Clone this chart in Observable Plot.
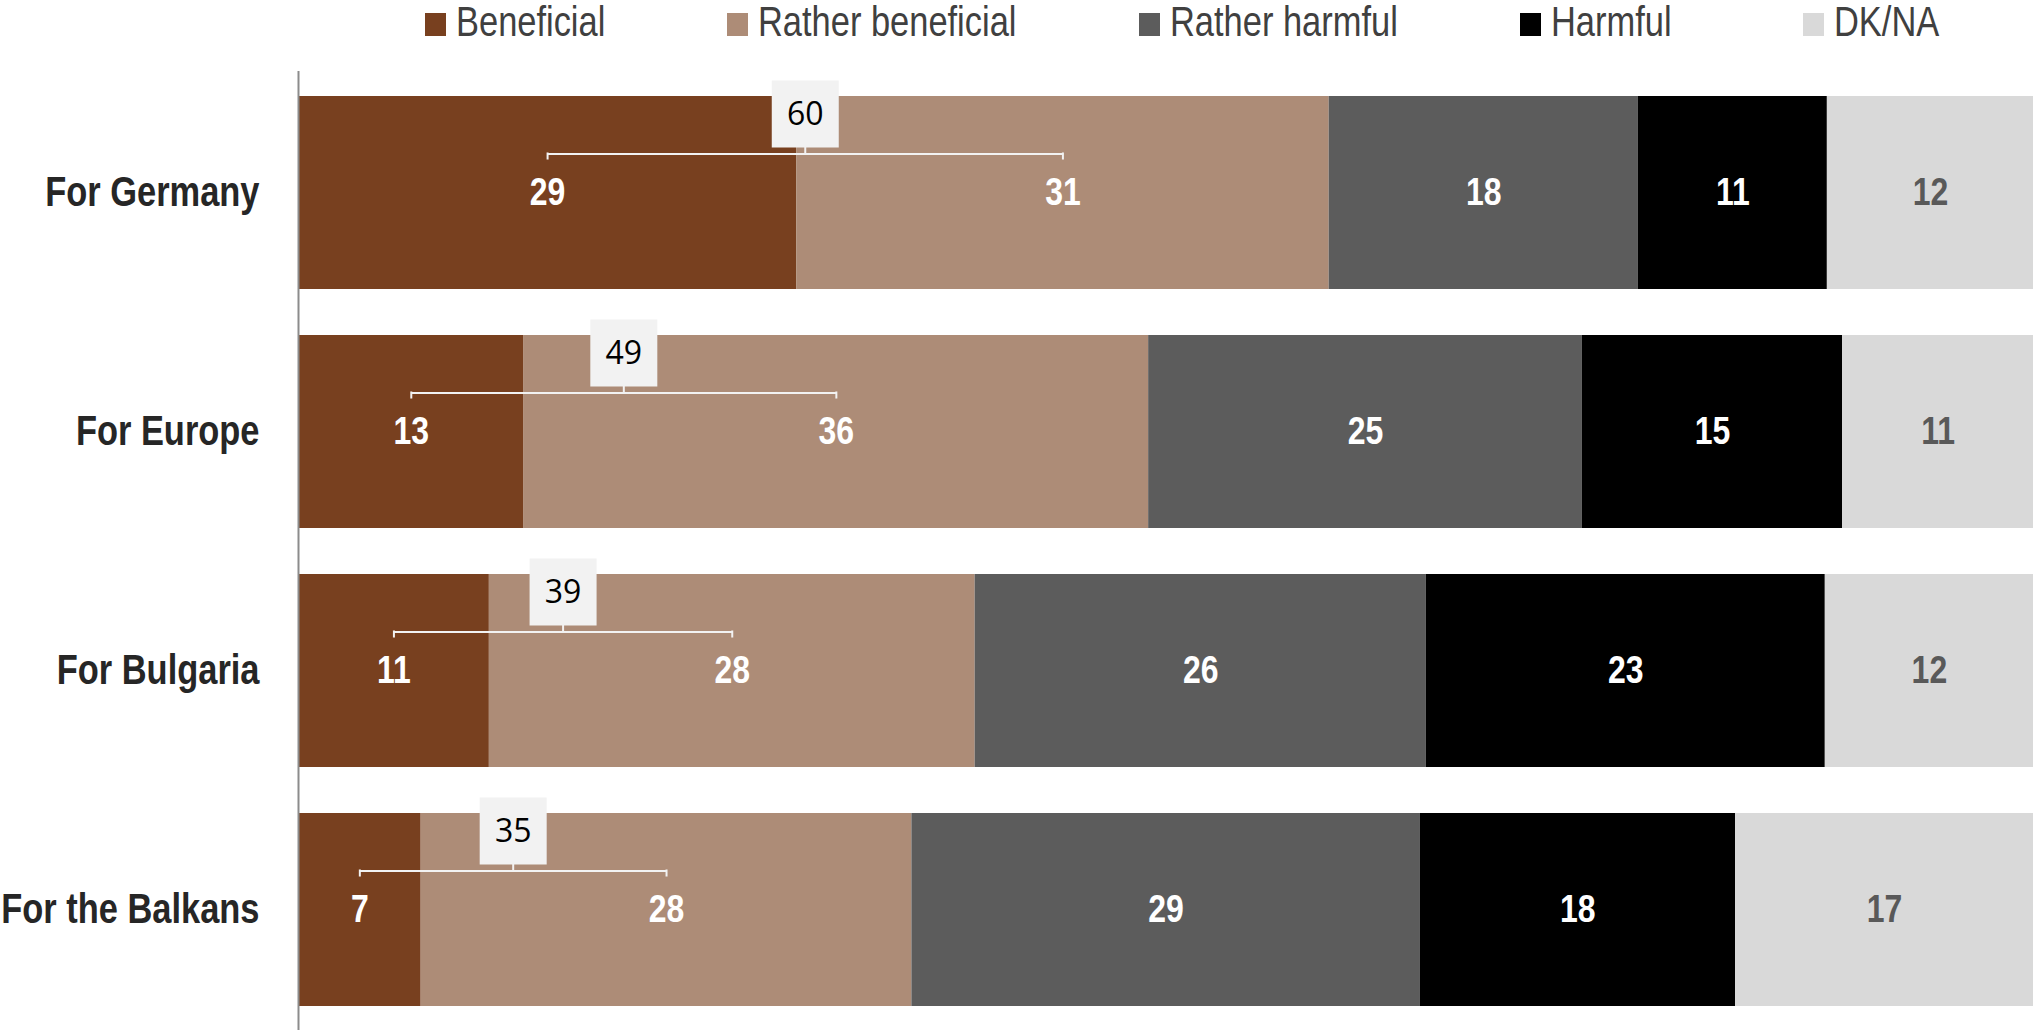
<!DOCTYPE html>
<html>
<head>
<meta charset="utf-8">
<script src="https://cdn.jsdelivr.net/npm/d3@7"></script>
<script src="https://cdn.jsdelivr.net/npm/@observablehq/plot@0.6"></script>
<style>
  html, body { margin: 0; padding: 0; background: #fff; overflow: hidden; }
  #legend { height: 71px; box-sizing: border-box; display: flex; align-items: flex-start; padding-left: 425px;
    font-family: "Liberation Sans", Arial, sans-serif; font-size: 42px; line-height: 42px; color: #404040; }
  #legend .item { display: flex; align-items: flex-start; margin-top: 1px; margin-right: 122px; white-space: nowrap; }
  #legend .item:nth-child(4) { margin-right: 132px; }
  #legend .sw { width: 21px; height: 23px; margin-top: 12px; margin-right: 10px; flex: none; }
  #legend .lab { display: inline-block; overflow: visible; }
  #legend .lab span { display: inline-block; transform: scaleX(0.82); transform-origin: 0 0; }
  #chart svg { display: block; }
</style>
</head>
<body>
<div id="legend"></div>
<div id="chart"></div>
<script>
const rows = ["For Germany", "For Europe", "For Bulgaria", "For the Balkans"];
const categories = ["Beneficial", "Rather beneficial", "Rather harmful", "Harmful", "DK/NA"];
const colors = ["#78401f", "#ad8c77", "#5c5c5c", "#000000", "#d9d9d9"];
const beneficial = [29, 13, 11, 7];
const ratherBeneficial = [31, 36, 28, 28];
const ratherHarmful = [18, 25, 26, 29];
const harmful = [11, 15, 23, 18];
const dkna = [12, 11, 12, 17];

const series = [beneficial, ratherBeneficial, ratherHarmful, harmful, dkna];
const data = rows.flatMap((row, i) => categories.map((cat, j) => ({row, cat, value: series[j][i]})));

const brackets = rows.map((row, i) => {
  const total = series.reduce((s, arr) => s + arr[i], 0);
  const b = beneficial[i], r = ratherBeneficial[i];
  const x1 = (b / 2) / total, x2 = (b + r / 2) / total;
  return {row, x1, x2, mid: (x1 + x2) / 2, label: b + r};
});

const SQUEEZE = 0.82;

// legend
const legend = document.getElementById("legend");
categories.forEach((c, i) => {
  const it = document.createElement("div");
  it.className = "item";
  const sw = document.createElement("div");
  sw.className = "sw";
  sw.style.background = colors[i];
  const lab = document.createElement("span");
  lab.className = "lab";
  const inner = document.createElement("span");
  inner.textContent = c;
  lab.appendChild(inner);
  it.appendChild(sw); it.appendChild(lab);
  legend.appendChild(it);
});
legend.querySelectorAll(".lab").forEach(l => {
  const w = l.firstChild.getBoundingClientRect().width; // already scaled width
  l.style.width = w + "px";
});

const W = 2033, H = 959;
const pInner = 0.194, pOuter = 0.1;
const step = H / (rows.length - pInner + 2 * pOuter);
const bw = step * (1 - pInner);
const sans = "'Liberation Sans', Arial, sans-serif";
const stackOpts = {x: "value", y: "row", z: "cat", offset: "normalize"};

const chart = Plot.plot({
  width: W,
  height: H,
  marginLeft: 298,
  marginRight: 0,
  marginTop: 0,
  marginBottom: 0,
  x: {domain: [0, 1], axis: null},
  y: {domain: rows, paddingInner: pInner, paddingOuter: pOuter, label: null},
  color: {domain: categories, range: colors},
  style: {background: "white", fontFamily: sans, color: "#262626"},
  marks: [
    Plot.barX(data, Plot.stackX({...stackOpts, fill: "cat"})),
    Plot.ruleX([0], {stroke: "#8c8c8c", strokeWidth: 2}),
    Plot.axisY({tickSize: 0, tickPadding: 39, fontSize: 42, fontWeight: "bold", fontFamily: sans, label: null}),
    Plot.text(data, Plot.filter(d => d.cat !== "DK/NA", Plot.stackX({...stackOpts, text: "value",
      fill: "white", fontSize: 39, fontWeight: "bold", fontFamily: sans}))),
    Plot.text(data, Plot.filter(d => d.cat === "DK/NA", Plot.stackX({...stackOpts, text: "value",
      fill: "#595959", fontSize: 39, fontWeight: "bold", fontFamily: sans}))),
    // bracket
    Plot.link(brackets, {x1: "x1", x2: "x2", y1: "row", y2: "row", dy: -39, stroke: "#f2f2f2", strokeWidth: 2}),
    Plot.tickX(brackets, {x: "x1", y: "row", stroke: "#f2f2f2", strokeWidth: 2, insetTop: bw / 2 - 40, insetBottom: bw / 2 + 33}),
    Plot.tickX(brackets, {x: "x2", y: "row", stroke: "#f2f2f2", strokeWidth: 2, insetTop: bw / 2 - 40, insetBottom: bw / 2 + 33}),
    Plot.tickX(brackets, {x: "mid", y: "row", stroke: "#f2f2f2", strokeWidth: 2, insetTop: bw / 2 - 47, insetBottom: bw / 2 + 39}),
    Plot.dot(brackets, {x: "mid", y: "row", symbol: "square", r: 37.8, fill: "#f2f2f2", dy: -79}),
    Plot.text(brackets, {x: "mid", y: "row", text: "label", dy: -78, fontSize: 32, fontFamily: "'Open Sans', sans-serif", fill: "black"})
  ]
});

// condense the Arial-metric text horizontally (narrow face look)
chart.querySelectorAll("text").forEach(t => {
  const ff = (t.closest("[font-family]") || t).getAttribute("font-family") || "";
  if (ff.includes("Open Sans")) return;
  const x = t.getAttribute("x");
  let tr = t.getAttribute("transform") || "";
  if (x != null && !isNaN(+x)) {
    tr += ` translate(${+x},0)`;
    t.removeAttribute("x");
  }
  t.setAttribute("transform", `${tr} scale(${SQUEEZE},1)`.trim());
});

document.getElementById("chart").appendChild(chart);
</script>
</body>
</html>
